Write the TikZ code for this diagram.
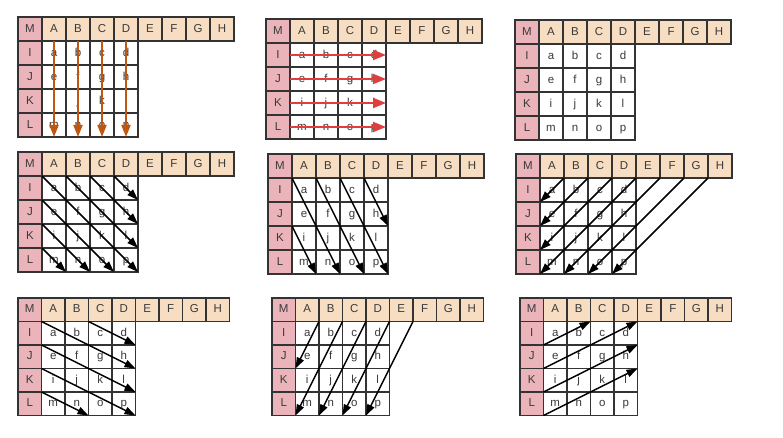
\documentclass[tikz,border=0pt]{standalone}
\usepackage{fontspec}
\setmainfont{Liberation Sans}
\usetikzlibrary{arrows.meta, positioning}
\definecolor{rowpink}{HTML}{EBB4BB}
\definecolor{colpeach}{HTML}{F7DDC2}
\definecolor{gridline}{HTML}{333333}
\definecolor{downorange}{HTML}{BF570F}
\definecolor{acrossred}{HTML}{E03E3E}
\definecolor{letter}{HTML}{3A3A3A}

% one lookup table: header M A..H, rows I..L, cells a..p
\newcommand{\gridpanel}[4]{%
  \begin{scope}[shift={(#2,#3)}, every node/.append style={minimum size=#4}]
    \node[rowhead] (#1-M) at ({0.5*#4},{0.5*#4}) {M};
    \foreach \h [count=\i] in {A,...,H}
      \node[colhead] (#1-\h) at ({(\i+0.5)*#4},{0.5*#4}) {\h};
    \foreach \r [count=\j] in {I,J,K,L}
      \node[rowhead] (#1-\r) at ({0.5*#4},{(\j+0.5)*#4}) {\r};
    \foreach \c [count=\k from 0] in {a,...,p}
      \node[datacell] (#1-\c) at ({(mod(\k,4)+1.5)*#4},{(floor(\k/4)+1.5)*#4}) {\c};
  \end{scope}}

\begin{document}
\begin{tikzpicture}[
    x=1pt, y=-1pt,
    cellbase/.style={draw=gridline, line width=1.6pt, inner sep=0pt, outer sep=0pt,
      font=\fontsize{11.5}{13}\selectfont, text=letter, text height=8.3pt, text depth=2pt},
    rowhead/.style={cellbase, fill=rowpink},
    colhead/.style={cellbase, fill=colpeach},
    datacell/.style={cellbase, fill=white},
    downarrow/.style={-{Triangle[length=12pt, width=9pt]}, line width=2pt, color=downorange},
    rightarrow/.style={-{Triangle[length=13pt, width=10pt]}, line width=2pt, color=acrossred},
    diagarrow/.style={-{Triangle[length=11pt, width=7.5pt]}, line width=1.5pt, color=black}
]
\useasboundingbox (0,0) rectangle (783,438);

% top row
\gridpanel{P1}{18}{17}{24}
\gridpanel{P2}{266}{19}{24}
\gridpanel{P3}{515}{20}{24}
% middle row
\gridpanel{P4}{18}{152}{24}
\gridpanel{P5}{268}{154}{24}
\gridpanel{P6}{516}{154}{24}
% bottom row
\gridpanel{P7}{18}{298}{23.5}
\gridpanel{P8}{272}{298}{23.5}
\gridpanel{P9}{520}{298}{23.5}

% columns top to bottom
\foreach \h/\c in {A/m, B/n, C/o, D/p}
  \draw[downarrow] (P1-\h.south) -- (P1-\c.south);

% rows left to right
\foreach \s/\e in {a/d, e/h, i/l, m/p}
  \draw[rightarrow] (P2-\s.west) -- (P2-\e.east);

% diagonals, one cell right per cell down
\foreach \s/\e in {a/p, b/l, c/h, d/d, e/o, i/n, m/m}
  \draw[diagarrow] (P4-\s.north west) -- (P4-\e.south east);

% steep diagonals, one right per two down
\foreach \s/\e in {a/n, b/o, c/p, d/h, i/m}
  \draw[diagarrow] (P5-\s.north west) -- (P5-\e.south east);

% anti-diagonals from the header
\foreach \s/\e in {A/a, B/e, C/i, D/m, E/n, F/o, G/p}
  \draw[diagarrow] (P6-\s.south east) -- (P6-\e.south west);

% shallow diagonals, two right per one down
\foreach \s/\e in {a/h, c/d, e/l, i/p, m/n}
  \draw[diagarrow] (P7-\s.north west) -- (P7-\e.south east);

% steep anti-diagonals from the header
\foreach \s/\e in {A/e, B/m, C/n, D/o, E/p}
  \draw[diagarrow] (P8-\s.south east) -- (P8-\e.south west);

% shallow rising diagonals
\foreach \s/\e in {a/b, e/d, i/h, m/l}
  \draw[diagarrow] (P9-\s.south west) -- (P9-\e.north east);
\end{tikzpicture}
\end{document}
